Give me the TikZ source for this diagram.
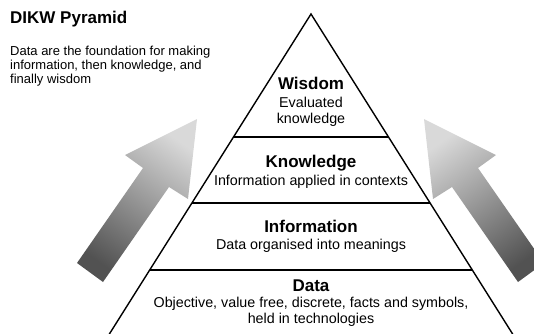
\documentclass[tikz,border=0pt]{standalone}
\usepackage{fontspec}
\setmainfont{Liberation Sans}
\usetikzlibrary{calc}

\begin{document}
\begin{tikzpicture}[x=1pt,y=-1pt,
  head/.style={font=\fontsize{17}{18}\selectfont\bfseries,inner sep=0pt,anchor=base},
  descr/.style={font=\fontsize{14.3}{16}\selectfont,align=center,inner sep=0pt,anchor=base},
  edge/.style={line width=1.4pt},
  layer/.style={line width=2pt},
  bigarrow/.style={top color=black!15,bottom color=black!68}]
\useasboundingbox (0,0) rectangle (534,333);
\clip (0,0) rectangle (534,333);

% heading and note
\node[inner sep=0pt,anchor=base west,font=\fontsize{17}{18}\selectfont\bfseries] (title) at (10,23) {DIKW Pyramid};
\node[inner sep=0pt,anchor=base west,align=left,font=\fontsize{13}{14}\selectfont] (note) at (10,83)
  {Data are the foundation for making\\information, then knowledge, and\\finally wisdom};

% arrows
\shade[bigarrow,shading angle=-35]
  (197,119) -- (188,199) -- (169,187) -- (103,282) -- (77,263) -- (143,168) -- (125,155) -- cycle;
\shade[bigarrow,shading angle=35]
  (424,119) -- (433,199) -- (452,187) -- (518,282) -- (544,263) -- (478,168) -- (496,155) -- cycle;

% pyramid
\coordinate (top) at (311,14);
\coordinate (bl) at (110,333);
\coordinate (br) at (512,333);
\draw[edge,line join=miter] ($(top)!1.05!(bl)$) -- (top) -- ($(top)!1.05!(br)$);
\foreach \t in {0.3856,0.5925,0.8025}
  \draw[layer] ($(top)!\t!(bl)$) -- ($(top)!\t!(br)$);

% layers (base = last line)
\node[head] (wisdom) at (311,89) {Wisdom};
\node[descr] (wisdomtxt) at (311,123) {Evaluated\\knowledge};
\node[head] (knowledge) at (311,167) {Knowledge};
\node[descr] (knowledgetxt) at (311,185) {Information applied in contexts};
\node[head] (information) at (311,232) {Information};
\node[descr] (informationtxt) at (311,249) {Data organised into meanings};
\node[head] (data) at (311,291) {Data};
\node[descr] (datatxt) at (311,323) {Objective, value free, discrete, facts and symbols,\\held in technologies};
\end{tikzpicture}
\end{document}
